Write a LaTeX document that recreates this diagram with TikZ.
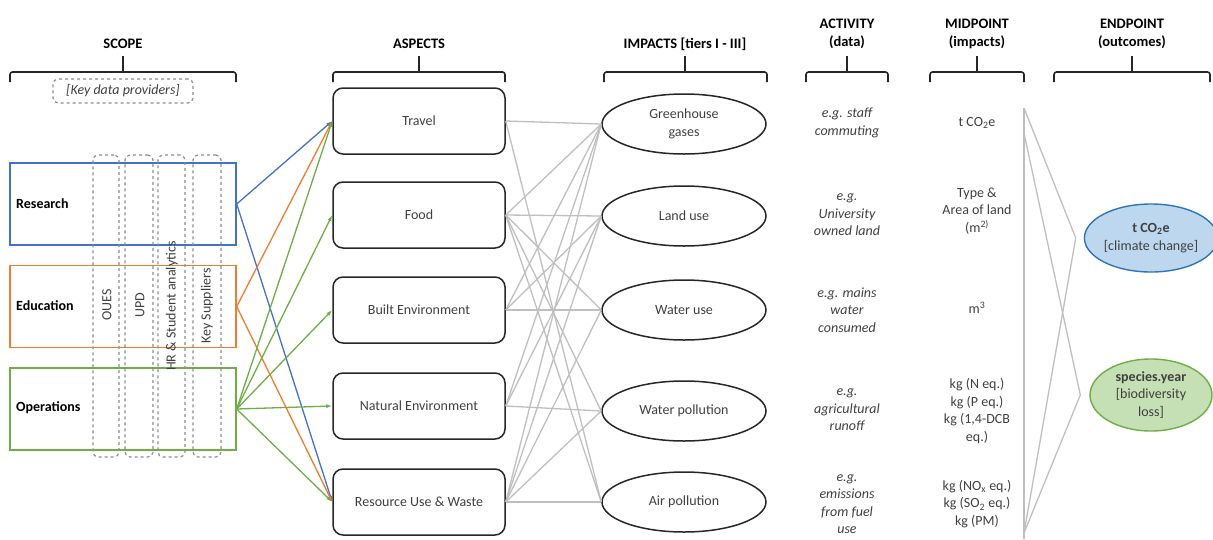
\documentclass[tikz,border=0pt]{standalone}
\usepackage{fontspec}
\setmainfont{Carlito}
\usetikzlibrary{arrows.meta,shapes.geometric}
\definecolor{sblue}{HTML}{4472C4}
\definecolor{sorange}{HTML}{ED7D31}
\definecolor{sgreen}{HTML}{70AD47}
\definecolor{lgray}{HTML}{BFBFBF}
\definecolor{dgray}{HTML}{8C8C8C}
\definecolor{txt}{HTML}{404040}
\definecolor{eblue}{HTML}{BDD7EE}
\definecolor{eblueb}{HTML}{2E75B6}
\definecolor{egreen}{HTML}{C5E0B4}
\tikzset{
  head/.style={font=\bfseries\fontsize{14.5}{18}\selectfont, align=center, inner sep=0pt},
  bracepath/.style={draw=black!85, line width=1.6pt, rounded corners=2.5pt},
  scopebox/.style={draw, line width=1.4pt, minimum width=226pt, minimum height=82pt, inner sep=0pt},
  scopelabel/.style={font=\bfseries\fontsize{14}{17}\selectfont, anchor=west, inner sep=0pt},
  provider/.style={draw=dgray, dashed, line width=1.2pt, rounded corners=5pt, minimum height=302pt, inner sep=0pt},
  providerlabel/.style={rotate=90, font=\fontsize{14}{17}\selectfont, text=txt, inner sep=0pt},
  aspectbox/.style={draw=black!85, line width=1.5pt, rounded corners=10pt, minimum width=172pt, minimum height=66pt, inner sep=0pt, font=\fontsize{14}{17}\selectfont, text=txt},
  impactell/.style={ellipse, draw=black!85, line width=1.5pt, minimum width=164pt, minimum height=60pt, inner sep=0pt, align=center, font=\fontsize{14}{17.5}\selectfont, text=txt},
  acttext/.style={font=\itshape\fontsize{14}{17.5}\selectfont, align=center, text=txt, inner sep=0pt},
  midtext/.style={font=\fontsize{14}{17.5}\selectfont, align=center, text=txt, inner sep=0pt},
  endell/.style={ellipse, line width=1.4pt, minimum width=122pt, inner sep=0pt, align=center, font=\fontsize{14}{17.5}\selectfont, text=txt},
  grayline/.style={draw=lgray, line width=1.3pt},
  colline/.style={line width=1.3pt, -{Latex[length=6pt,width=4pt]}},
}
\begin{document}
\begin{tikzpicture}[x=1pt,y=-1pt]
\useasboundingbox (0,0) rectangle (1213,539);

% headings
\node[head] (hscope) at (123,44) {SCOPE};
\node[head] (hasp) at (419,44) {ASPECTS};
\node[head] (himp) at (685,44) {IMPACTS [tiers I - III]};
\node[head] (hact) at (847,34) {ACTIVITY\\(data)};
\node[head] (hmid) at (977,34) {MIDPOINT\\(impacts)};
\node[head] (hend) at (1132,34) {ENDPOINT\\(outcomes)};

% braces
\draw[bracepath] (10,82) -- (10,72) -- (236,72) -- (236,82) (123,72) -- (123,56);
\draw[bracepath] (333,82) -- (333,72) -- (505,72) -- (505,82) (419,72) -- (419,56);
\draw[bracepath] (604,82) -- (604,72) -- (767,72) -- (767,82) (685,72) -- (685,56);
\draw[bracepath] (806,82) -- (806,72) -- (888,72) -- (888,82) (847,72) -- (847,56);
\draw[bracepath] (930,82) -- (930,72) -- (1024,72) -- (1024,82) (977,72) -- (977,56);
\draw[bracepath] (1054,82) -- (1054,72) -- (1210,72) -- (1210,82) (1132,72) -- (1132,56);

% key data providers
\node[draw=dgray, dashed, line width=1.2pt, rounded corners=5pt, minimum width=140pt, minimum height=24pt, inner sep=0pt, font=\itshape\fontsize{14}{17}\selectfont, text=txt] (kdp) at (123,91) {[Key data providers]};

% scope boxes
\node[scopebox, draw=sblue] (research) at (123,204) {};
\node[scopebox, draw=sorange] (education) at (123,306.5) {};
\node[scopebox, draw=sgreen] (operations) at (123,409) {};
\node[scopelabel] (lres) at (16,204) {Research};
\node[scopelabel] (ledu) at (16,306) {Education};
\node[scopelabel] (lops) at (16,408) {Operations};

% providers
\node[provider, minimum width=26pt] (oues) at (106,306) {};
\node[provider, minimum width=28pt] (upd) at (139,306) {};
\node[provider, minimum width=27pt] (hr) at (171.5,306) {};
\node[provider, minimum width=28pt] (ks) at (207,306) {};
\node[providerlabel] (loues) at (107,305) {OUES};
\node[providerlabel] (lupd) at (140,305) {UPD};
\node[providerlabel] (lhr) at (172,306) {HR \& Student analytics};
\node[providerlabel] (lks) at (207,306) {Key Suppliers};

% aspects
\node[aspectbox] (travel) at (419,121) {Travel};
\node[aspectbox] (food) at (419,215) {Food};
\node[aspectbox] (built) at (419,310) {Built Environment};
\node[aspectbox] (natural) at (419,406) {Natural Environment};
\node[aspectbox] (resource) at (419,502) {Resource Use \& Waste};

% impacts
\node[impactell] (ghg) at (684,124) {Greenhouse\\gases};
\node[impactell] (land) at (684,216) {Land use};
\node[impactell] (wuse) at (684,310) {Water use};
\node[impactell] (wpol) at (684,411) {Water pollution};
\node[impactell] (air) at (684,502) {Air pollution};

% scope -> aspects
\draw[colline, sblue] (research.east) -- (travel.west);
\draw[colline, sblue] (research.east) -- (resource.west);
\draw[colline, sorange] (education.east) -- (travel.west);
\draw[colline, sorange] (education.east) -- (resource.west);
\foreach \t in {travel,food,built,natural,resource}
  \draw[colline, sgreen] (operations.east) -- (\t.west);

% aspects -> impacts
\foreach \a/\b in {travel/ghg, travel/air, food/ghg, food/land, food/wuse, food/wpol, food/air,
  built/ghg, built/land, built/wuse, natural/ghg, natural/land, natural/wpol,
  resource/ghg, resource/land, resource/wuse, resource/wpol, resource/air}
  \draw[grayline] (\a.east) -- (\b.west);

% activity
\node[acttext] (a1) at (847,123) {e.g. staff\\commuting};
\node[acttext] (a2) at (847,215) {e.g.\\University\\owned land};
\node[acttext] (a3) at (847,310) {e.g. mains\\water\\consumed};
\node[acttext] (a4) at (847,410) {e.g.\\agricultural\\runoff};
\node[acttext] (a5) at (847,504) {e.g.\\emissions\\from fuel\\use};

% midpoint
\node[midtext] (m1) at (977,123) {t CO\textsubscript{2}e};
\node[midtext] (m2) at (977,211) {Type \&\\Area of land\\(m\textsuperscript{2)}};
\node[midtext] (m3) at (977,308) {m\textsuperscript{3}};
\node[midtext] (m4) at (977,411) {kg (N eq.)\\kg (P eq.)\\kg (1,4-DCB\\eq.)};
\node[midtext] (m5) at (977,504) {kg (NO\textsubscript{x} eq.)\\kg (SO\textsubscript{2} eq.)\\kg (PM)};

% endpoint
\node[endell, draw=eblueb, fill=eblue, minimum height=68pt] (climate) at (1151,238) {\textbf{t CO\textsubscript{2}e}\\{[climate change]}};
\node[endell, draw=sgreen, fill=egreen, minimum height=72pt] (species) at (1151,395) {\textbf{species.year}\\{[biodiversity}\\loss]};

% midpoint -> endpoint lines
\coordinate (mtop) at (1024,108);
\coordinate (mtop2) at (1024,133);
\coordinate (mbot) at (1024,533);
\coordinate (mend) at (1024,539);
\coordinate (cpt) at ([xshift=-8pt]climate.west);
\coordinate (spt) at ([xshift=-9pt]species.west);
\draw[draw=lgray, line width=2pt] (mtop) -- (mend);
\draw[grayline] (mtop) -- (cpt) -- (mbot);
\draw[grayline] (mtop2) -- (spt) -- (mbot);
\end{tikzpicture}
\end{document}
